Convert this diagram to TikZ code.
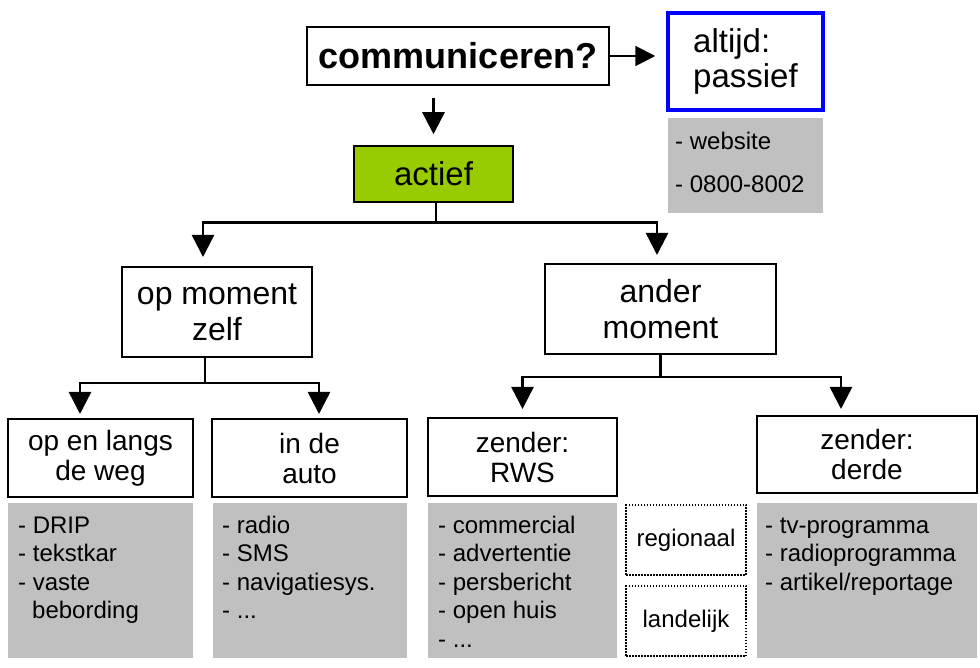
\documentclass[tikz,border=0pt]{standalone}
\usepackage{fontspec}
\setmainfont{Liberation Sans}
\usetikzlibrary{arrows.meta,positioning,calc}
\definecolor{LeafGreen}{HTML}{99CC00}
\definecolor{ListGray}{HTML}{C0C0C0}
\definecolor{PlainBlue}{HTML}{0000FF}

\begin{document}
\begin{tikzpicture}[x=1pt, y=1pt, >={Triangle[length=22pt,width=22pt]},
  box/.style={draw, line width=2pt, align=center, inner sep=0pt},
  topfont/.style={font=\fontsize{33}{35}\selectfont},
  midfont/.style={font=\fontsize{32}{36}\selectfont},
  lowfont/.style={font=\fontsize{28}{30}\selectfont},
  graybox/.style={fill=ListGray, anchor=north west, inner sep=0pt},
  listtext/.style={anchor=base west, align=left, inner sep=0pt, font=\fontsize{24}{28.5}\selectfont},
  tagbox/.style={draw, dash pattern=on 1.5pt off 1.5pt, line width=1.5pt, minimum width=120pt, minimum height=70pt, font=\fontsize{24}{28}\selectfont},
  tree/.style={line width=2.5pt}]
  \useasboundingbox (0,0) rectangle (980,667);

  % question and the passive route
  \node[box, font=\bfseries\fontsize{36}{40}\selectfont, minimum width=302pt, minimum height=58pt] (comm) at (458,611) {communiceren?};
  \node[box, draw=PlainBlue, line width=3.5pt, align=left, topfont, minimum width=155pt, minimum height=97pt] (passief) at (745.5,605.5) {altijd:\\passief};
  \node[graybox, minimum width=155pt, minimum height=95pt] (passiefList) at (668,549) {};
  % base = last line
  \node[listtext] (passiefItems) at (675,474) {- website\\[14.5pt]- 0800-8002};
  \node[box, fill=LeafGreen, line width=1.5pt, topfont, minimum width=159pt, minimum height=56pt] (actief) at (433.5,493) {actief};

  % when
  \node[box, midfont, minimum width=190pt, minimum height=90pt] (zelf) at (217,355) {op moment\\zelf};
  \node[box, midfont, minimum width=231pt, minimum height=90pt] (ander) at (660.5,358) {ander\\moment};

  % where / who
  \node[box, lowfont, minimum width=185pt, minimum height=78pt] (weg) at (100.5,209) {op en langs\\de weg};
  \node[box, lowfont, minimum width=195pt, minimum height=78pt] (auto) at (309.5,209) {in de\\auto};
  \node[box, lowfont, minimum width=189pt, minimum height=78pt] (rws) at (522.5,210) {zender:\\RWS};
  \node[box, lowfont, minimum width=220pt, minimum height=77pt] (derde) at (867,212.5) {zender:\\derde};

  % means
  \node[graybox, minimum width=185pt, minimum height=155pt] (wegList) at (8,164) {};
  \node[graybox, minimum width=194pt, minimum height=155pt] (autoList) at (213,164) {};
  \node[graybox, minimum width=189pt, minimum height=155pt] (rwsList) at (428,164) {};
  \node[graybox, minimum width=220pt, minimum height=155pt] (derdeList) at (757,164) {};
  \node[listtext] (wegItems) at (18,48.5) {- DRIP\\- tekstkar\\- vaste\\\hspace*{14pt}bebording};
  \node[listtext] (autoItems) at (222,48.5) {- radio\\- SMS\\- navigatiesys.\\- ...};
  \node[listtext] (rwsItems) at (438,20) {- commercial\\- advertentie\\- persbericht\\- open huis\\- ...};
  \node[listtext] (derdeItems) at (765,77) {- tv-programma\\- radioprogramma\\- artikel/reportage};
  \node[tagbox] (regionaal) at (686,127) {regionaal};
  \node[tagbox] (landelijk) at (686,46) {landelijk};

  % arrows
  \draw[->, line width=2pt, >={Triangle[length=20pt,width=20pt]}, shorten >=11pt] (comm.east) -- (comm.east -| passief.west);
  \draw[->, tree, shorten <=12pt, shorten >=11pt] (comm.south -| actief.north) -- (actief.north);
  \draw[->, tree, shorten >=9pt] ([xshift=2.5pt]actief.south) -- ++(0,-20) -| ([xshift=-14pt]zelf.north);
  \draw[->, tree, shorten >=8pt] ([xshift=2.5pt]actief.south) -- ++(0,-20) -| ([xshift=-3.5pt]ander.north);
  \draw[->, tree, shorten >=4pt] ([xshift=-12pt]zelf.south) -- ++(0,-25) -| ([xshift=-20.5pt]weg.north);
  \draw[->, tree, shorten >=4pt] ([xshift=-12pt]zelf.south) -- ++(0,-25) -| ([xshift=9.5pt]auto.north);
  \draw[->, tree, shorten >=8pt] (ander.south) -- ++(0,-22) -| (rws.north);
  \draw[->, tree, shorten >=6pt] (ander.south) -- ++(0,-22) -| ([xshift=-26pt]derde.north);
\end{tikzpicture}
\end{document}
